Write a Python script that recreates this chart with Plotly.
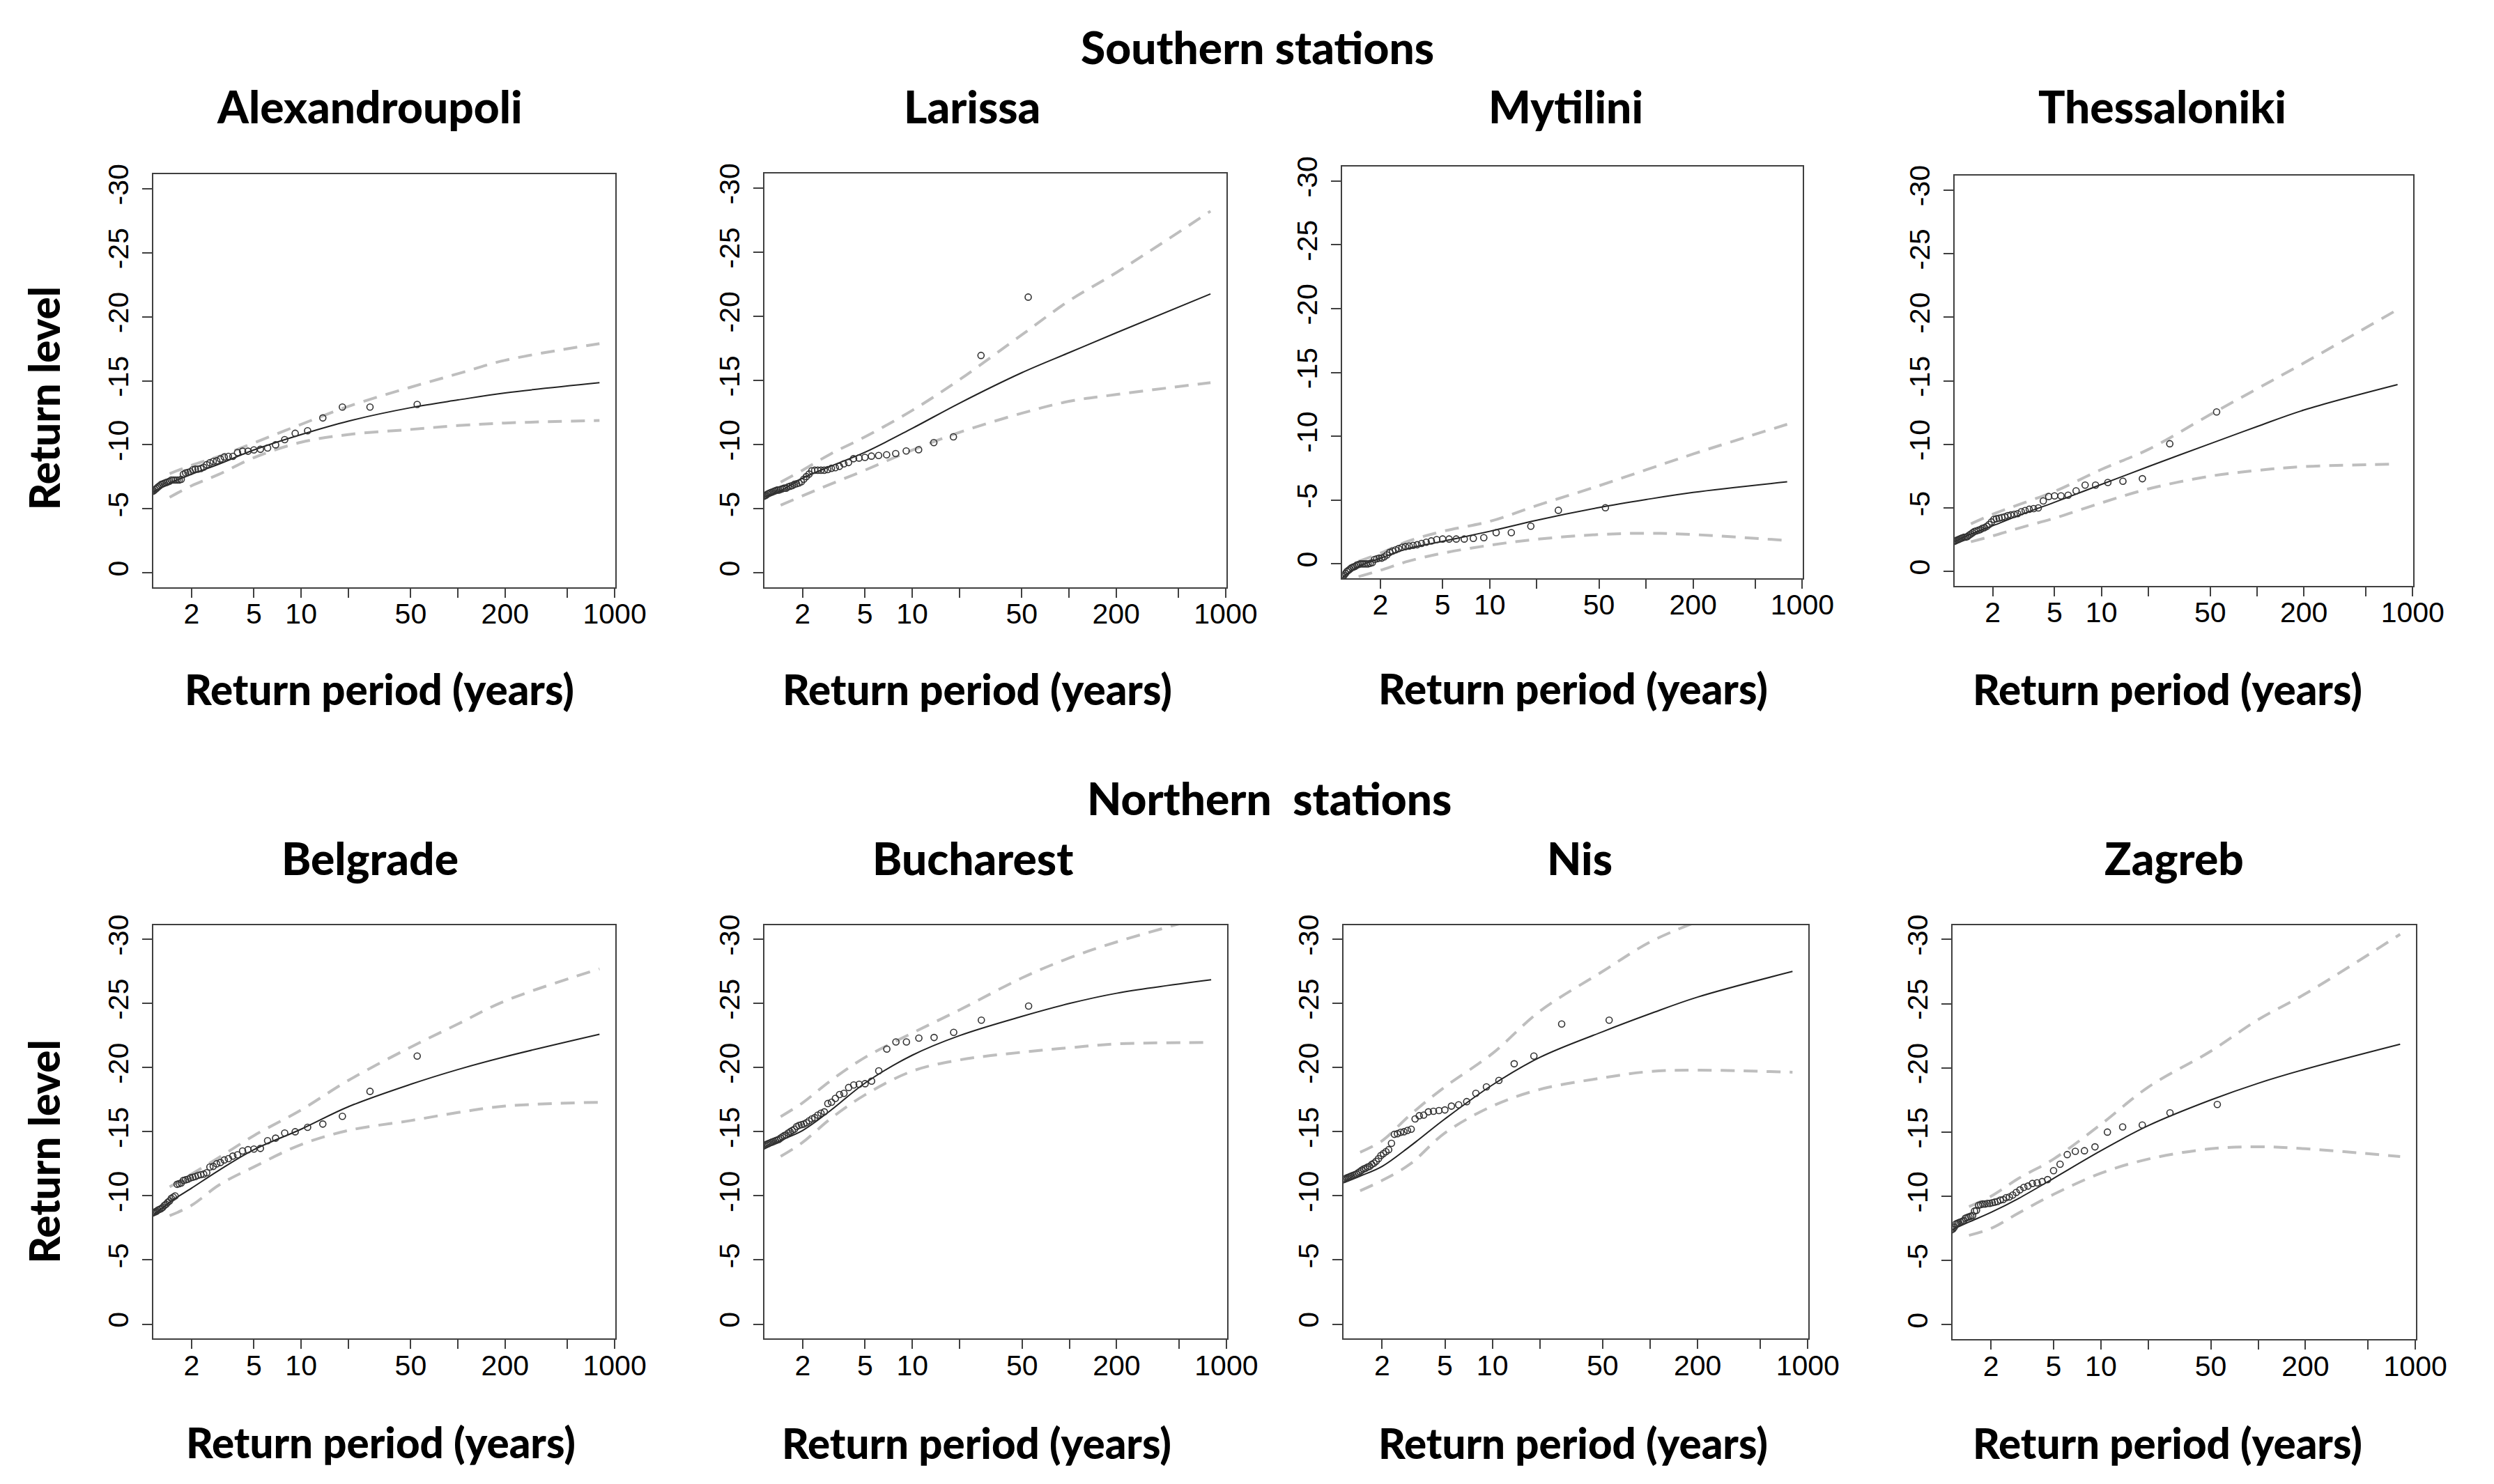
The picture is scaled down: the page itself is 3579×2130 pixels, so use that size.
import plotly.graph_objects as go

W, H = 3579, 2130  # reference canvas size used to express the frame geometry

# ---------------- data ----------------
point_periods = [1.1, 1.122, 1.146, 1.17, 1.196, 1.222, 1.25, 1.279, 1.31, 1.341,
                 1.375, 1.41, 1.447, 1.486, 1.528, 1.571, 1.618, 1.667, 1.719, 1.774,
                 1.833, 1.897, 1.964, 2.037, 2.115, 2.2, 2.292, 2.391, 2.5, 2.619,
                 2.75, 2.895, 3.056, 3.235, 3.438, 3.667, 3.929, 4.231, 4.583, 5.0,
                 5.5, 6.111, 6.875, 7.857, 9.167, 11.0, 13.75, 18.33, 27.5, 55.0]
fit_periods = [1.13, 1.45, 2, 3, 5, 10, 20, 50, 100, 200, 800]
ci_periods = [1.45, 2, 3, 5, 10, 20, 50, 100, 200, 800]

stations = ["Alexandroupoli", "Larissa", "Mytilini", "Thessaloniki",
            "Belgrade", "Bucharest", "Nis", "Zagreb"]
group_titles = ["Southern stations", "Northern\u00a0 stations"]
x_title = "Return period (years)"
y_title = "Return level"
x_tick_vals = [2, 5, 10, 20, 50, 100, 200, 500, 1000]
x_tick_text = ["2", "5", "10", "", "50", "", "200", "", "1000"]
y_tick_vals = [0, -5, -10, -15, -20, -25, -30]
y_tick_text = ["0", "-5", "-10", "-15", "-20", "-25", "-30"]

alex_points = [-6.3, -6.35, -6.4, -6.5, -6.6, -6.7, -6.8, -6.9, -6.95, -7.0,
               -7.05, -7.1, -7.15, -7.25, -7.25, -7.25, -7.25, -7.25, -7.3, -7.7,
               -7.8, -7.85, -7.9, -8.05, -8.1, -8.1, -8.15, -8.25, -8.45, -8.6,
               -8.7, -8.75, -8.9, -9.05, -9.1, -9.1, -9.4, -9.5, -9.5, -9.6,
               -9.65, -9.75, -10.0, -10.4, -10.9, -11.1, -12.1, -12.95, -12.95, -13.15]
alex_fit = [-6.3, -7.0, -7.7, -8.5, -9.6, -10.8, -11.85, -12.9, -13.5, -14.05, -14.85]
alex_upper = [-7.75, -8.4, -9.1, -10.15, -11.6, -13.0, -14.5, -15.55, -16.6, -17.9]
alex_lower = [-5.9, -6.8, -7.7, -9.0, -10.2, -10.8, -11.2, -11.5, -11.7, -11.9]

lar_points = [-5.9, -5.95, -6.0, -6.05, -6.15, -6.2, -6.25, -6.3, -6.35, -6.4,
              -6.45, -6.45, -6.5, -6.55, -6.6, -6.6, -6.7, -6.75, -6.8, -6.9,
              -6.95, -7.0, -7.1, -7.3, -7.5, -7.7, -7.95, -8.0, -8.0, -8.0,
              -8.0, -8.05, -8.15, -8.2, -8.3, -8.5, -8.6, -8.9, -8.95, -9.0,
              -9.1, -9.15, -9.2, -9.3, -9.5, -9.6, -10.15, -10.6, -16.95, -21.5]
lar_fit = [-5.93, -6.4, -7.38, -8.3, -9.4, -11.26, -13.22, -15.6, -17.16, -18.71, -21.75]
lar_upper = [-7.07, -8.0, -9.25, -10.6, -12.66, -15.05, -18.55, -21.2, -23.4, -28.2]
lar_lower = [-5.27, -6.0, -6.9, -8.0, -9.56, -10.95, -12.44, -13.37, -13.9, -14.83]

myt_points = [1.2, 1.1, 1.0, 0.9, 0.75, 0.6, 0.5, 0.4, 0.3, 0.25,
              0.2, 0.1, 0.05, 0.0, 0.0, 0.0, 0.0, 0.0, -0.05, -0.1,
              -0.35, -0.4, -0.45, -0.45, -0.55, -0.7, -0.9, -1.0, -1.1, -1.2,
              -1.3, -1.35, -1.4, -1.45, -1.5, -1.6, -1.7, -1.8, -1.9, -1.95,
              -1.95, -1.95, -1.95, -2.0, -2.05, -2.45, -2.45, -2.95, -4.2, -4.4]
myt_fit = [1.1, 0.2, -0.44, -1.2, -1.77, -2.55, -3.42, -4.41, -5.04, -5.6, -6.43]
myt_upper = [-0.2, -0.84, -1.77, -2.55, -3.33, -4.57, -6.12, -7.37, -8.61, -10.94]
myt_lower = [1.0, 0.5, -0.2, -0.84, -1.46, -1.93, -2.3, -2.4, -2.3, -1.83]

the_points = [-2.3, -2.35, -2.4, -2.45, -2.5, -2.55, -2.6, -2.65, -2.7, -2.7,
              -2.75, -2.85, -2.95, -3.05, -3.15, -3.2, -3.25, -3.3, -3.4, -3.45,
              -3.55, -3.7, -3.9, -4.1, -4.15, -4.2, -4.25, -4.3, -4.4, -4.45,
              -4.5, -4.55, -4.7, -4.8, -4.9, -4.95, -5.0, -5.55, -5.9, -5.95,
              -5.95, -6.0, -6.35, -6.8, -6.8, -7.0, -7.1, -7.3, -10.05, -12.55]
the_fit = [-2.34, -2.95, -3.6, -4.45, -5.45, -6.85, -8.25, -10.05, -11.4, -12.7, -14.7]
the_upper = [-3.75, -4.5, -5.3, -6.3, -8.03, -9.6, -12.34, -14.37, -16.4, -20.6]
the_lower = [-2.34, -2.8, -3.44, -4.2, -5.4, -6.5, -7.5, -7.95, -8.25, -8.45]

bel_points = [-8.6, -8.65, -8.7, -8.75, -8.8, -8.9, -8.95, -9.0, -9.1, -9.25,
              -9.35, -9.5, -9.6, -9.8, -9.9, -10.0, -10.9, -10.95, -11.0, -11.2,
              -11.25, -11.3, -11.4, -11.45, -11.5, -11.6, -11.65, -11.7, -11.8, -12.25,
              -12.3, -12.5, -12.6, -12.8, -12.9, -13.1, -13.2, -13.5, -13.6, -13.65,
              -13.7, -14.3, -14.5, -14.9, -15.0, -15.35, -15.6, -16.2, -18.15, -20.9]
bel_fit = [-8.4, -9.5, -10.6, -12.0, -13.6, -15.2, -16.95, -18.7, -19.85, -20.85, -22.6]
bel_upper = [-10.7, -11.7, -13.0, -14.7, -16.7, -19.0, -21.6, -23.4, -25.2, -27.7]
bel_lower = [-8.45, -9.26, -10.85, -12.26, -14.0, -15.1, -15.87, -16.5, -17.0, -17.3]

buc_points = [-13.85, -13.9, -13.95, -14.0, -14.05, -14.1, -14.15, -14.2, -14.25, -14.3,
              -14.35, -14.4, -14.5, -14.6, -14.7, -14.75, -14.9, -15.0, -15.1, -15.2,
              -15.4, -15.5, -15.55, -15.6, -15.7, -15.85, -16.0, -16.1, -16.3, -16.45,
              -16.55, -17.2, -17.3, -17.6, -17.9, -18.0, -18.45, -18.65, -18.7, -18.75,
              -18.95, -19.75, -21.45, -22.0, -22.0, -22.3, -22.35, -22.75, -23.7, -24.8]
buc_fit = [-13.64, -14.32, -15.1, -16.64, -18.8, -20.97, -22.5, -24.0, -25.0, -25.8, -26.85]
buc_upper = [-16.18, -17.26, -18.96, -20.8, -22.7, -24.5, -27.0, -28.55, -29.8, -31.9]
buc_lower = [-13.08, -14.17, -16.0, -17.88, -19.73, -20.6, -21.2, -21.55, -21.85, -21.96]

nis_points = [-11.2, -11.25, -11.3, -11.35, -11.4, -11.45, -11.5, -11.55, -11.6, -11.65,
              -11.7, -11.8, -11.9, -12.0, -12.1, -12.15, -12.25, -12.3, -12.45, -12.55,
              -12.7, -12.9, -13.15, -13.3, -13.45, -13.6, -14.1, -14.8, -14.85, -14.95,
              -15.0, -15.1, -15.2, -16.0, -16.25, -16.3, -16.55, -16.6, -16.65, -16.7,
              -17.0, -17.1, -17.35, -18.0, -18.5, -19.0, -20.3, -20.9, -23.4, -23.7]
nis_fit = [-11.0, -11.54, -12.3, -13.86, -16.0, -18.65, -20.8, -22.8, -24.2, -25.5, -27.5]
nis_upper = [-13.4, -14.3, -16.3, -18.5, -21.1, -24.4, -27.5, -29.8, -31.4, None]
nis_lower = [-10.4, -11.2, -12.47, -14.9, -17.0, -18.3, -19.2, -19.7, -19.8, -19.64]

zag_points = [-7.3, -7.4, -7.45, -7.6, -7.85, -7.9, -7.95, -8.0, -8.05, -8.1,
              -8.3, -8.35, -8.4, -8.45, -8.5, -8.85, -8.9, -9.3, -9.35, -9.4,
              -9.4, -9.45, -9.45, -9.5, -9.55, -9.6, -9.7, -9.75, -9.9, -9.95,
              -10.1, -10.3, -10.5, -10.7, -10.8, -11.0, -11.05, -11.15, -11.3, -12.0,
              -12.5, -13.25, -13.5, -13.55, -13.85, -15.0, -15.4, -15.55, -16.5, -17.15]
zag_fit = [-7.4, -8.0, -8.75, -9.84, -11.4, -13.55, -15.5, -17.5, -18.8, -19.9, -21.84]
zag_upper = [-9.2, -10.0, -11.4, -12.9, -15.6, -18.5, -21.3, -23.75, -25.77, -30.4]
zag_lower = [-6.96, -7.5, -8.7, -10.15, -11.8, -12.9, -13.7, -13.86, -13.7, -13.1]

series = [
    (alex_points, alex_fit, alex_upper, alex_lower),
    (lar_points, lar_fit, lar_upper, lar_lower),
    (myt_points, myt_fit, myt_upper, myt_lower),
    (the_points, the_fit, the_upper, the_lower),
    (bel_points, bel_fit, bel_upper, bel_lower),
    (buc_points, buc_fit, buc_upper, buc_lower),
    (nis_points, nis_fit, nis_upper, nis_lower),
    (zag_points, zag_fit, zag_upper, zag_lower),
]

# ---------------- layout (pixel geometry of the frames on the 3579x2130 canvas) ----------------
boxes = [  # x0, x1, y0(top), y1(bottom)
    (223, 894, 237, 834), (1111, 1782, 236, 834), (1951, 2620, 226, 821), (2841, 3507, 239, 832),
    (223, 894, 1322, 1920), (1111, 1783, 1322, 1920), (1953, 2628, 1322, 1920), (2838, 3511, 1322, 1921),
]
title_pos = [(537, 138), (1413, 138), (2276, 138), (3143, 138),
             (538, 1225), (1414, 1225), (2296, 1225), (3160, 1225)]
xlab_pos = [(551, 981), (1420, 981), (2286, 980), (3150, 981),
            (553, 2070), (1419, 2071), (2286, 2071), (3150, 2071)]
ylab_pos = [(64, 561), (64, 1650)]
group_pos = [(1827, 53), (1845, 1139)]

X_RANGE = [0.058, 3.003]
Y_RANGE = [1.14, -31.12]

BOLD = "Lato"
TICKF = "Liberation Sans"
FRAME = "#404040"
DASH = "20px,13px"

fig = go.Figure()
layout = dict(autosize=True, margin=dict(l=0, r=0, t=0, b=0, pad=0),
              paper_bgcolor="white", plot_bgcolor="white", showlegend=False)


def px(x):
    return x / W


def py(y):
    return 1 - y / H


annotations = []
for k, (name, (pts, fit, up, lo), box) in enumerate(zip(stations, series, boxes), start=1):
    xa = "x" if k == 1 else f"x{k}"
    ya = "y" if k == 1 else f"y{k}"
    x0, x1, y0, y1 = box
    layout["xaxis" if k == 1 else f"xaxis{k}"] = dict(
        domain=[px(x0), px(x1)], anchor=ya, type="log", range=X_RANGE,
        tickmode="array", tickvals=x_tick_vals, ticktext=x_tick_text,
        ticks="outside", ticklen=13, tickwidth=2, tickcolor=FRAME,
        showline=True, linecolor=FRAME, linewidth=2, mirror=True,
        showgrid=False, zeroline=False, ticklabelstandoff=-12,
        tickfont=dict(family=TICKF, size=41, color="black"))
    layout["yaxis" if k == 1 else f"yaxis{k}"] = dict(
        domain=[py(y1), py(y0)], anchor=xa, range=Y_RANGE,
        tickmode="array", tickvals=y_tick_vals, ticktext=y_tick_text,
        tickangle=-90, ticks="outside", ticklen=14, tickwidth=2, tickcolor=FRAME,
        showline=True, linecolor=FRAME, linewidth=2, mirror=True,
        showgrid=False, zeroline=False, ticklabelstandoff=4,
        tickfont=dict(family=TICKF, size=41, color="black"))

    for bound in (up, lo):
        fig.add_trace(go.Scatter(x=ci_periods, y=bound, xaxis=xa, yaxis=ya, mode="lines",
                                 line=dict(color="#BEBEBE", width=4, dash=DASH, shape="spline"),
                                 hoverinfo="skip"))
    fig.add_trace(go.Scatter(x=fit_periods, y=fit, xaxis=xa, yaxis=ya, mode="lines",
                             line=dict(color="#222222", width=2, shape="spline"),
                             hoverinfo="skip"))
    fig.add_trace(go.Scatter(x=point_periods, y=pts, xaxis=xa, yaxis=ya, mode="markers",
                             marker=dict(symbol="circle-open", size=9, color="#333333",
                                         line=dict(width=1.6, color="#333333")),
                             hoverinfo="skip"))

    tx, ty = title_pos[k - 1]
    annotations.append(dict(text=name, x=px(tx), y=py(ty), xref="paper", yref="paper",
                            xanchor="center", yanchor="middle", showarrow=False,
                            font=dict(family=BOLD, size=64, color="black", weight=900)))
    lx, ly = xlab_pos[k - 1]
    annotations.append(dict(text=x_title, x=px(lx), y=py(ly), xref="paper", yref="paper",
                            xanchor="center", yanchor="middle", showarrow=False,
                            font=dict(family=BOLD, size=60, color="black", weight=900)))

for (gx, gy), g in zip(group_pos, group_titles):
    annotations.append(dict(text=g, x=px(gx), y=py(gy), xref="paper", yref="paper",
                            xanchor="center", yanchor="middle", showarrow=False,
                            font=dict(family=BOLD, size=64, color="black", weight=900)))
for (lx, ly) in ylab_pos:
    annotations.append(dict(text=y_title, x=px(lx), y=py(ly), xref="paper", yref="paper",
                            xanchor="center", yanchor="middle", showarrow=False, textangle=-90,
                            font=dict(family=BOLD, size=60, color="black", weight=900)))

layout["annotations"] = annotations
fig.update_layout(**layout)
fig.write_html("out.html", config={"displayModeBar": False, "responsive": True},
               default_width="100vw", default_height="100vh",
               post_script="document.body.style.margin='0';document.body.style.overflow='hidden';"
                           "Plotly.Plots.resize(document.getElementById('{plot_id}'));")
